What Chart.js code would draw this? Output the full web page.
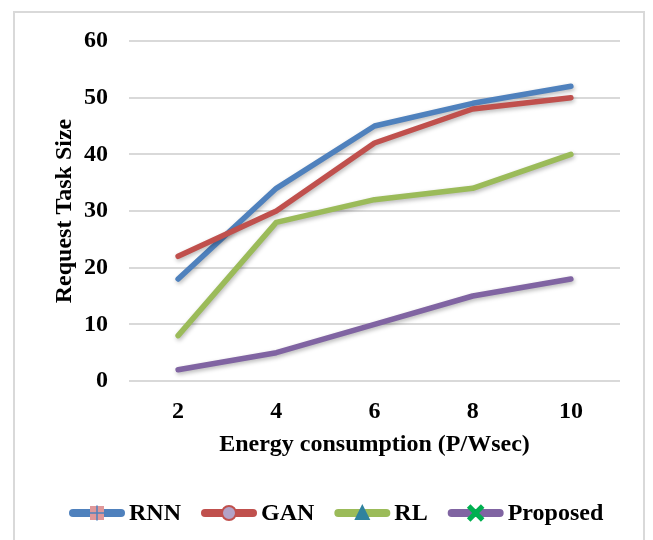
<!DOCTYPE html>
<html>
<head>
<meta charset="utf-8">
<script src="https://cdn.jsdelivr.net/npm/chart.js@4/dist/chart.umd.min.js"></script>
<style>
  html, body { margin: 0; padding: 0; background: #ffffff; }
  #wrap { position: relative; width: 653px; height: 540px; overflow: hidden; }
  #frame { position: absolute; left: 13px; top: 11px; width: 632px; height: 560px; border: 2px solid #d9d9d9; box-sizing: border-box; }
  #c { position: absolute; left: 0; top: 0; }
</style>
</head>
<body>
<div id="wrap">
  <div id="frame"></div>
  <canvas id="c" width="653" height="540"></canvas>
</div>
<script>
// Energy consumption steps on the x axis
const energyLevels = ['2', '4', '6', '8', '10'];

// Request task size per method
const rnnValues = [18, 34, 45, 49, 52];
const ganValues = [22, 30, 42, 48, 50];
const rlValues = [8, 28, 32, 34, 40];
const proposedValues = [2, 5, 10, 15, 18];

const seriesNames = ['RNN', 'GAN', 'RL', 'Proposed'];
const yTickValues = [0, 10, 20, 30, 40, 50, 60];

const COLORS = {
  RNN: '#4F81BD',
  GAN: '#C0504D',
  RL: '#9BBB59',
  Proposed: '#8064A2'
};

const FONT_FAMILY = '"Liberation Serif", "Times New Roman", serif';
const FONT_SIZE = 24;

function lineDataset(label, data, order) {
  return {
    label: label,
    data: data,
    borderColor: COLORS[label],
    backgroundColor: COLORS[label],
    borderWidth: 5.5,
    pointRadius: 0,
    pointHoverRadius: 0,
    tension: 0,
    borderCapStyle: 'round',
    borderJoinStyle: 'round',
    fill: false,
    order: order
  };
}

// Soft drop shadow under each series line
const lineShadow = {
  id: 'lineShadow',
  beforeDatasetDraw(chart) {
    const ctx = chart.ctx;
    ctx.save();
    ctx.shadowColor = 'rgba(0,0,0,0.28)';
    ctx.shadowBlur = 4;
    ctx.shadowOffsetX = 1;
    ctx.shadowOffsetY = 2;
  },
  afterDatasetDraw(chart) {
    chart.ctx.restore();
  }
};

// Legend with line samples and marker symbols along the bottom
function drawMarker(ctx, name, x, y) {
  ctx.save();
  if (name === 'RNN') {
    ctx.fillStyle = '#E0989A';
    ctx.fillRect(x - 7, y - 7, 14, 14);
    ctx.strokeStyle = COLORS.RNN;
    ctx.lineWidth = 1.5;
    ctx.beginPath();
    ctx.moveTo(x - 7, y); ctx.lineTo(x + 7, y);
    ctx.moveTo(x, y - 7); ctx.lineTo(x, y + 7);
    ctx.stroke();
  } else if (name === 'GAN') {
    ctx.fillStyle = '#B3A2C7';
    ctx.strokeStyle = COLORS.GAN;
    ctx.lineWidth = 2;
    ctx.beginPath();
    ctx.arc(x, y, 7, 0, Math.PI * 2);
    ctx.fill();
    ctx.stroke();
  } else if (name === 'RL') {
    ctx.fillStyle = '#2F829E';
    ctx.beginPath();
    ctx.moveTo(x, y - 9);
    ctx.lineTo(x + 8, y + 7);
    ctx.lineTo(x - 8, y + 7);
    ctx.closePath();
    ctx.fill();
  } else {
    ctx.strokeStyle = '#00B050';
    ctx.lineWidth = 5;
    ctx.lineCap = 'butt';
    ctx.beginPath();
    ctx.moveTo(x - 7, y - 7); ctx.lineTo(x + 7, y + 7);
    ctx.moveTo(x + 7, y - 7); ctx.lineTo(x - 7, y + 7);
    ctx.stroke();
  }
  ctx.restore();
}

const bottomLegend = {
  id: 'bottomLegend',
  afterDraw(chart) {
    const ctx = chart.ctx;
    const y = 513;
    const lineLen = 56;
    const textGap = 4;
    const itemGap = 20;
    ctx.save();
    ctx.font = 'bold ' + FONT_SIZE + 'px ' + FONT_FAMILY;
    ctx.textBaseline = 'middle';
    ctx.textAlign = 'left';
    let x = 69;
    chart.data.datasets.forEach((ds) => {
      const name = ds.label;
      ctx.strokeStyle = COLORS[name];
      ctx.lineWidth = 8;
      ctx.lineCap = 'round';
      ctx.beginPath();
      ctx.moveTo(x + 4, y);
      ctx.lineTo(x + lineLen - 4, y);
      ctx.stroke();
      drawMarker(ctx, name, x + lineLen / 2, y);
      x += lineLen + textGap;
      ctx.fillStyle = '#000000';
      ctx.fillText(name, x, y + 1);
      x += ctx.measureText(name).width + itemGap;
    });
    ctx.restore();
  }
};

const seriesData = [rnnValues, ganValues, rlValues, proposedValues];

new Chart(document.getElementById('c'), {
  type: 'line',
  data: {
    labels: energyLevels,
    datasets: seriesNames.map((n, i) => lineDataset(n, seriesData[i], seriesNames.length - i))
  },
  options: {
    responsive: false,
    animation: false,
    events: [],
    layout: { padding: { left: 50, top: 41, right: 33, bottom: 81 } },
    plugins: {
      legend: { display: false },
      tooltip: { enabled: false }
    },
    scales: {
      x: {
        offset: true,
        grid: { display: false, drawTicks: false },
        border: { display: false },
        ticks: {
          color: '#000000',
          padding: 16,
          font: { family: FONT_FAMILY, size: FONT_SIZE, weight: 'bold' }
        },
        title: {
          display: true,
          text: 'Energy consumption (P/Wsec)',
          color: '#000000',
          padding: { top: 0, bottom: 0 },
          font: { family: FONT_FAMILY, size: FONT_SIZE, weight: 'bold' }
        },
        afterFit(scale) { scale.height = 78; }
      },
      y: {
        min: 0,
        max: 60,
        afterBuildTicks(scale) {
          scale.ticks = yTickValues.map(v => ({ value: v }));
        },
        grid: { color: '#d9d9d9', lineWidth: 2, drawTicks: false },
        border: { display: false },
        ticks: {
          color: '#000000',
          padding: 21,
          font: { family: FONT_FAMILY, size: FONT_SIZE, weight: 'bold' }
        },
        title: {
          display: true,
          text: 'Request Task Size',
          color: '#000000',
          padding: { top: 0, bottom: 0 },
          font: { family: FONT_FAMILY, size: FONT_SIZE, weight: 'bold' }
        },
        afterFit(scale) { scale.width = 79; }
      }
    }
  },
  plugins: [lineShadow, bottomLegend]
});
</script>
</body>
</html>
